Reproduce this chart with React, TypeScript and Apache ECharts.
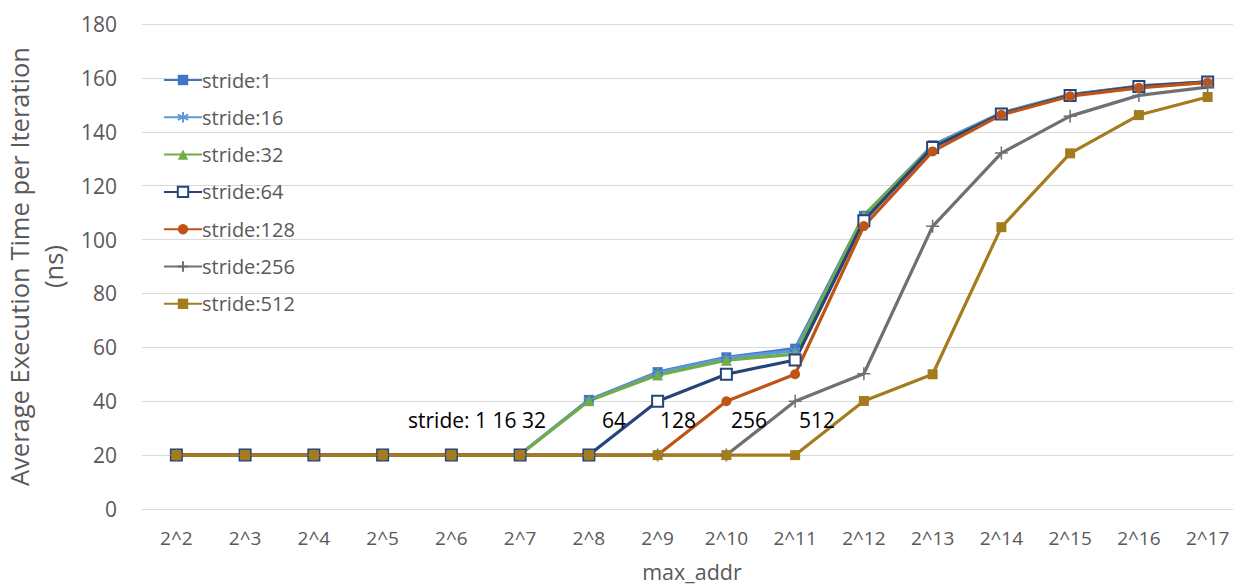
import React, { useEffect, useRef } from "react";
import * as echarts from "echarts";

const categories = ["2^2", "2^3", "2^4", "2^5", "2^6", "2^7", "2^8", "2^9", "2^10", "2^11", "2^12", "2^13", "2^14", "2^15", "2^16", "2^17"];

const stride1 = [20, 20, 20, 20.2, 20.2, 20.2, 40.5, 50.8, 56.3, 59.5, 108.8, 135, 147, 153.8, 157, 158.5];
const stride16 = [20, 20, 20, 20.2, 20.2, 20.2, 40.3, 50.5, 56, 58.8, 108.5, 134.8, 146.8, 153.6, 156.8, 158.4];
const stride32 = [20, 20, 20, 20.2, 20.2, 20.2, 40.2, 49.7, 55.2, 57.5, 109, 134.5, 146.6, 153.5, 156.7, 158.3];
const stride64 = [20, 20, 20, 20, 20, 20, 20, 40, 50, 55.3, 107, 134.2, 146.6, 153.5, 156.8, 158.5];
const stride128 = [20, 20, 20, 20, 20, 20, 20, 20, 40, 50, 105, 132.7, 146.3, 153.2, 156.3, 158.3];
const stride256 = [20, 20, 20, 20, 20, 20, 20, 20, 20, 40, 50.2, 104.9, 132.1, 145.8, 153.5, 156.6];
const stride512 = [20, 20, 20, 20, 20, 20, 20, 20, 20, 20, 40.1, 50, 104.6, 132, 146.2, 152.9];

const seriesNames = ["stride:1", "stride:16", "stride:32", "stride:64", "stride:128", "stride:256", "stride:512"];
const seriesData = [stride1, stride16, stride32, stride64, stride128, stride256, stride512];

const annotations = ["stride: 1 16 32", "64", "128", "256", "512"];

const FONT = "'Open Sans', 'Noto Sans', sans-serif";

const ASTERISK = "path://M0,-5L0,5M-4.33,-2.5L4.33,2.5M-4.33,2.5L4.33,-2.5";
const PLUS = "path://M0,-5L0,5M-5,0L5,0";

const styles = [
  { color: "#4472C4", symbol: "rect", size: 10, bw: 0 },
  { color: "#5B9BD5", symbol: ASTERISK, size: 10, bw: 1.3 },
  { color: "#70AD47", symbol: "triangle", size: 11, bw: 0 },
  { color: "#264478", symbol: "emptyRect", size: 11, bw: 1.5 },
  { color: "#BE5517", symbol: "circle", size: 10, bw: 0 },
  { color: "#707070", symbol: PLUS, size: 13, bw: 1.5 },
  { color: "#A47C1E", symbol: "rect", size: 10, bw: 0 },
];

export default function App() {
  const ref = useRef<HTMLDivElement>(null);
  useEffect(() => {
    if (!ref.current) return;
    const chart = echarts.init(ref.current, undefined, { renderer: "svg" });
    const annX = [477, 614, 678, 749, 817];
    chart.setOption({
      animation: false,
      backgroundColor: "#ffffff",
      textStyle: { fontFamily: FONT },
      grid: { left: 142, top: 24, width: 1100, height: 485, containLabel: false, outerBoundsMode: "none" },
      legend: {
        orient: "vertical",
        left: 158,
        top: 64,
        itemWidth: 38,
        itemHeight: 13,
        itemGap: 15.3,
        data: seriesNames,
        textStyle: { fontFamily: FONT, fontSize: 20, color: "#595959", lineHeight: 22, padding: [0, 0, 0, -5] },
      },
      xAxis: {
        type: "category",
        data: categories,
        boundaryGap: true,
        name: "max_addr",
        nameLocation: "middle",
        nameGap: 51,
        nameTextStyle: { fontFamily: FONT, fontSize: 21.5, color: "#595959", lineHeight: 22 },
        axisTick: { show: false },
        axisLine: { lineStyle: { color: "#D9D9D9", width: 1 } },
        axisLabel: { fontFamily: FONT, fontSize: 19, color: "#595959", margin: 19 },
      },
      yAxis: {
        type: "value",
        min: 0,
        max: 180,
        interval: 20,
        name: "Average Execution Time per Iteration\n(ns)",
        nameLocation: "middle",
        nameRotate: 90,
        nameGap: 70,
        nameTextStyle: { fontFamily: FONT, fontSize: 25.5, color: "#595959", lineHeight: 34 },
        axisLine: { show: false },
        axisTick: { show: false },
        axisLabel: { fontFamily: FONT, fontSize: 21, color: "#595959", margin: 25 },
        splitLine: { lineStyle: { color: "#D9D9D9", width: 1 } },
      },
      graphic: annotations.map((t, i) => ({
        type: "text",
        x: annX[i],
        y: 420,
        z: 100,
        style: {
          text: t,
          fontFamily: FONT,
          fontSize: 21,
          fill: "#000000",
          align: "center",
          verticalAlign: "middle",
        },
      })),
      series: seriesNames.map((n, i) => ({
        name: n,
        type: "line",
        data: seriesData[i],
        symbol: styles[i].symbol,
        symbolSize: styles[i].size,
        showAllSymbol: true,
        lineStyle: { color: styles[i].color, width: 3.2 },
        itemStyle: {
          color: styles[i].color,
          borderColor: styles[i].color,
          borderWidth: styles[i].bw,
        },
        emphasis: { disabled: true },
      })),
    });
    return () => chart.dispose();
  }, []);
  return <div ref={ref} style={{ position: "fixed", left: 0, top: 0, width: 1233, height: 584 }} />;
}
